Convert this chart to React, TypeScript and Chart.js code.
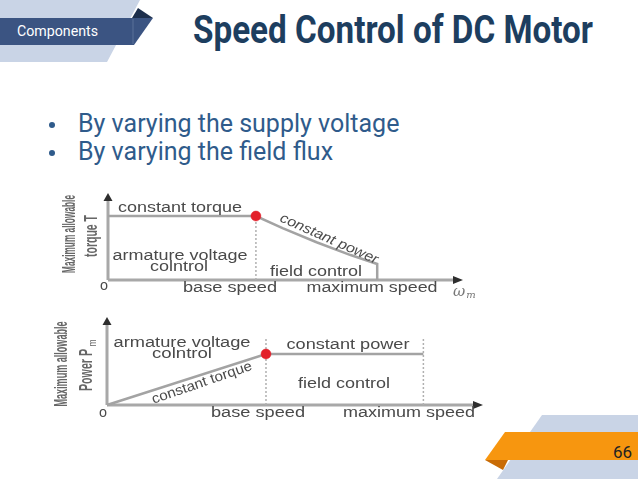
import React, { useEffect, useRef } from "react";
import { Chart, registerables } from "chart.js";

Chart.register(...registerables);

// ---------- Data (speed in units of base speed) ----------
// Top chart: maximum allowable torque
const torqueSpeed = [0, 1, 1.18, 1.41, 1.64, 1.82, 1.82];
const torqueValues = [1, 1, 0.81, 0.59, 0.39, 0.25, 0];
const torqueBaseSpeed = 1;
const torqueBaseValue = 1;
const torqueXMax = 2.4;
const torqueYMax = 1.36;

// Bottom chart: maximum allowable power
const powerSpeed = [0, 1, 1.99];
const powerValues = [0, 1, 1];
const powerBaseSpeed = 1;
const powerMaxSpeed = 1.99;
const powerMarkerTop = 1.33;
const powerXMax = 2.365;
const powerYMax = 1.725;

// Text labels
const bulletLines = ["By varying the supply voltage", "By varying the field flux"];
const titleText = "Speed Control of DC Motor";
const sectionText = "Components";
const pageNumber = "66";

const LINE = "#a3a3a3";
const AXIS = "#a8a8a8";
const TEXT = "#4a4a4a";
const RED = "#e3202a";

type Label = {
  text: string;
  x: number;
  y: number;
  size: number;
  width?: number;
  angle?: number;
  italic?: boolean;
  bold?: boolean;
  family?: string;
  color?: string;
  align?: CanvasTextAlign;
};

function drawLabel(ctx: CanvasRenderingContext2D, t: Label) {
  ctx.save();
  ctx.translate(t.x, t.y);
  if (t.angle) ctx.rotate((t.angle * Math.PI) / 180);
  ctx.font = `${t.italic ? "italic " : ""}${t.bold ? "bold " : ""}${t.size}px ${t.family || '"Liberation Sans", Arial, sans-serif'}`;
  const m = ctx.measureText(t.text).width;
  const sx = t.width ? t.width / m : 1;
  ctx.scale(sx, 1);
  ctx.textAlign = t.align || "center";
  ctx.textBaseline = "middle";
  ctx.fillStyle = t.color || TEXT;
  ctx.fillText(t.text, 0, 0);
  ctx.restore();
}

function axesPlugin(labels: Label[], xArrowLabel: boolean) {
  return {
    id: "axesAndLabels",
    beforeDatasetsDraw(chart: any) {
      const ctx = chart.ctx as CanvasRenderingContext2D;
      const xs = chart.scales.x;
      const ys = chart.scales.y;
      const ca = chart.chartArea;
      const x0 = xs.getPixelForValue(0);
      const y0 = ys.getPixelForValue(0);
      ctx.save();
      ctx.strokeStyle = AXIS;
      ctx.lineWidth = 3;
      ctx.beginPath();
      ctx.moveTo(x0, y0);
      ctx.lineTo(ca.right - 6, y0);
      ctx.moveTo(x0, y0);
      ctx.lineTo(x0, ca.top + 6);
      ctx.stroke();
      ctx.fillStyle = "#2e2e2e";
      ctx.beginPath();
      ctx.moveTo(x0, ca.top);
      ctx.lineTo(x0 - 4.5, ca.top + 8);
      ctx.lineTo(x0 + 4.5, ca.top + 8);
      ctx.closePath();
      ctx.fill();
      ctx.beginPath();
      ctx.moveTo(ca.right, y0);
      ctx.lineTo(ca.right - 10, y0 - 4);
      ctx.lineTo(ca.right - 10, y0 + 4);
      ctx.closePath();
      ctx.fill();
      ctx.restore();
    },
    afterDatasetsDraw(chart: any) {
      const ctx = chart.ctx as CanvasRenderingContext2D;
      labels.forEach((l) => drawLabel(ctx, l));
      if (xArrowLabel) {
        const ca = chart.chartArea;
        const y0 = chart.scales.y.getPixelForValue(0);
        drawLabel(ctx, { text: "ω", x: ca.right - 4, y: y0 + 12, size: 15, italic: true, family: '"DejaVu Serif", serif', color: "#777" });
        drawLabel(ctx, { text: "m", x: ca.right + 8, y: y0 + 15, size: 10, italic: true, family: '"DejaVu Serif", serif', color: "#777" });
      }
    },
  };
}

const topLabels: Label[] = [
  { text: "constant torque", x: 130, y: 22, size: 14, width: 124 },
  { text: "armature voltage", x: 130, y: 70, size: 14, width: 135 },
  { text: "colntrol", x: 129, y: 81, size: 14, width: 58 },
  { text: "field control", x: 266, y: 86, size: 14, width: 92 },
  { text: "base speed", x: 180, y: 102, size: 14, width: 94 },
  { text: "maximum speed", x: 322, y: 102, size: 14, width: 131 },
  { text: "constant power", x: 279, y: 53, size: 14, width: 106, angle: 24, italic: true },
  { text: "o", x: 54, y: 100, size: 14, width: 8 },
  { text: "Maximum allowable", x: 20, y: 48, size: 18, width: 78, angle: -90, bold: true, color: "#666" },
  { text: "torque T", x: 42, y: 50, size: 18, width: 42, angle: -90, bold: true, color: "#666" },
];

const bottomLabels: Label[] = [
  { text: "armature voltage", x: 137, y: 33, size: 14, width: 137 },
  { text: "colntrol", x: 137, y: 44, size: 14, width: 60 },
  { text: "constant torque", x: 157, y: 73, size: 14, width: 105, angle: -19 },
  { text: "constant power", x: 303, y: 35, size: 14, width: 123 },
  { text: "field control", x: 299, y: 74, size: 14, width: 92 },
  { text: "o", x: 58, y: 103, size: 14, width: 8 },
  { text: "base speed", x: 213, y: 103, size: 14, width: 94 },
  { text: "maximum speed", x: 364, y: 103, size: 14, width: 132 },
  { text: "Maximum allowable", x: 17, y: 54, size: 18, width: 85, angle: -90, bold: true, color: "#666" },
  { text: "Power P", x: 42, y: 60, size: 18, width: 42, angle: -90, bold: true, color: "#666" },
  { text: "m", x: 48, y: 33, size: 10, width: 7, angle: -90, color: "#666" },
];

function pts(xs: number[], ys: number[]) {
  return xs.map((x, i) => ({ x, y: ys[i] }));
}

function MotorChart(props: {
  kind: "torque" | "power";
  left: number;
  top: number;
  width: number;
  height: number;
  padding: { left: number; top: number; right: number; bottom: number };
}) {
  const ref = useRef<HTMLCanvasElement | null>(null);
  useEffect(() => {
    if (!ref.current) return;
    const isTorque = props.kind === "torque";
    const datasets: any[] = [];
    const dot = (x: number, y: number) => ({
      data: [{ x, y }],
      pointRadius: 5,
      pointBackgroundColor: RED,
      pointBorderColor: "rgba(227,32,42,0.45)",
      pointBorderWidth: 1,
      showLine: false,
      order: 0,
    });
    const dotted = (x: number, top: number) => ({
      data: [
        { x, y: 0 },
        { x, y: top },
      ],
      borderColor: "#b0b0b0",
      borderWidth: 1.5,
      borderDash: [2, 2],
      pointRadius: 0,
      showLine: true,
      order: 2,
    });
    if (isTorque) {
      datasets.push({
        data: pts(torqueSpeed, torqueValues),
        borderColor: LINE,
        borderWidth: 2.5,
        pointRadius: 0,
        showLine: true,
        order: 1,
      });
      datasets.push(dotted(torqueBaseSpeed, torqueBaseValue));
      datasets.push(dot(torqueBaseSpeed, torqueBaseValue));
    } else {
      datasets.push({
        data: pts(powerSpeed, powerValues),
        borderColor: LINE,
        borderWidth: 2.5,
        pointRadius: 0,
        showLine: true,
        order: 1,
      });
      datasets.push(dotted(powerBaseSpeed, powerMarkerTop));
      datasets.push(dotted(powerMaxSpeed, powerMarkerTop));
      datasets.push(dot(powerBaseSpeed, powerValues[1]));
    }
    const chart = new Chart(ref.current, {
      type: "scatter",
      data: { datasets },
      options: {
        responsive: false,
        animation: false,
        events: [],
        clip: false as any,
        layout: { padding: props.padding },
        plugins: { legend: { display: false }, tooltip: { enabled: false } },
        elements: { line: { tension: 0 } },
        scales: {
          x: { type: "linear", display: false, min: 0, max: isTorque ? torqueXMax : powerXMax },
          y: { type: "linear", display: false, min: 0, max: isTorque ? torqueYMax : powerYMax },
        },
      } as any,
      plugins: [axesPlugin(isTorque ? topLabels : bottomLabels, isTorque)],
    });
    return () => chart.destroy();
  }, []);
  return (
    <canvas
      ref={ref}
      width={props.width}
      height={props.height}
      style={{ position: "absolute", left: props.left, top: props.top, width: props.width, height: props.height }}
    />
  );
}

export default function App() {
  return (
    <div
      style={{
        position: "fixed",
        left: 0,
        top: 0,
        width: 638,
        height: 479,
        background: "#ffffff",
        overflow: "hidden",
      }}
    >
      <svg width={638} height={479} style={{ position: "absolute", left: 0, top: 0 }}>
        <polygon points="0,0 140,0 107,62 0,62" fill="#c9d4e6" />
        <polygon points="132,18 138,8 153,18" fill="#1d2f4c" />
        <polygon points="0,18 153,18 134,45 0,45" fill="#3b5482" />
        <line x1={133} y1={19} x2={133} y2={44} stroke="#5a7098" strokeWidth={1} />
        <text x={17} y={36} fontFamily="Roboto" fontSize={15} fill="#ffffff" textLength={81} lengthAdjust="spacingAndGlyphs">
          {sectionText}
        </text>
        <text
          x={193}
          y={43}
          fontFamily="Roboto"
          fontWeight={700}
          fontSize={38}
          fill="#1d3e5f"
          textLength={400}
          lengthAdjust="spacingAndGlyphs"
        >
          {titleText}
        </text>
        {bulletLines.map((b, i) => (
          <g key={i}>
            <circle cx={52} cy={125 + i * 28} r={3} fill="#2f5b8b" />
            <text x={78} y={132 + i * 28} fontFamily="Roboto" fontSize={25} fill="#2f5b8b">
              {b}
            </text>
          </g>
        ))}
        <polygon points="542,415 638,415 638,479 497,479" fill="#c9d4e6" />
        <polygon points="505,432 638,432 638,460 485,460" fill="#f7960f" />
        <polygon points="485,460 503,470 508,460" fill="#c96c06" />
        <text x={632} y={458} fontFamily="Roboto" fontSize={17} fill="#222" textAnchor="end">
          {pageNumber}
        </text>
      </svg>
      <MotorChart kind="torque" left={50} top={186} width={440} height={114} padding={{ left: 58, top: 7, right: 27, bottom: 20 }} />
      <MotorChart kind="power" left={45} top={310} width={450} height={115} padding={{ left: 62, top: 7, right: 12, bottom: 20 }} />
    </div>
  );
}
